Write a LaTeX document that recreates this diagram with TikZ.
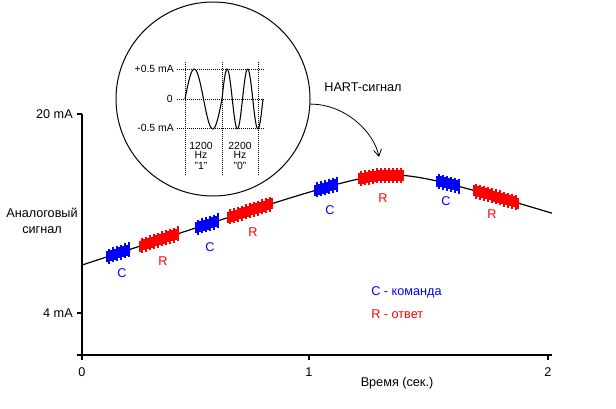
\documentclass[tikz,border=0pt]{standalone}
\usepackage{fontspec}
\setmainfont{Liberation Sans}
\usetikzlibrary{arrows.meta}
\begin{document}
\begin{tikzpicture}[x=0.75pt,y=-0.75pt,
  declare function={hy(\x)=175+sqrt(13.1^2+(((\x<392)?0.33:0.31)*(\x-392))^2)-13.1;},
  lbl/.style={font=\fontsize{9.5}{12}\selectfont,inner sep=0pt},
  sml/.style={font=\fontsize{7.8}{6.75}\selectfont,inner sep=0pt},
  grid/.style={dash pattern=on 0.75pt off 0.75pt,line width=0.6pt},
  axis/.style={line width=0.9pt}]
\useasboundingbox (0,0) rectangle (616,409);
% axes
\draw[axis] (82,114) -- (82,360);
\draw[axis] (77,355) -- (552,355);
\foreach \yy/\txt [count=\i] in {114/20 mA,313/4 mA} {
  \draw[axis] (77,\yy) -- (82,\yy);
  \node[lbl,anchor=east] (ytick\i) at (73,\yy) {\txt};
}
\foreach \xx/\txt [count=\i] in {82/0,309/1,548/2} {
  \draw[axis] (\xx,355) -- (\xx,360);
  \node[lbl] (xtick\i) at (\xx,372) {\txt};
}
\node[lbl,align=center] (ylab) at (42,221) {Аналоговый\\сигнал};
\node[lbl] (xlab) at (397,383) {Время (сек.)};
% analog signal
\draw[line width=0.9pt] plot[domain=82:552,samples=120] (\x,{hy(\x)});
% HART packets
\foreach \a/\b/\col in {107/130/blue,140/179/red,196/218/blue,228/272/red,
                        315/337/blue,359/403/red,437/459/blue,474/519/red} {
  \pgfmathsetmacro\aa{\a+2}
  \foreach \xt [count=\k] in {\a,\aa,...,\b} {
    \pgfmathsetmacro\h{mod(\k,2)==0?7.5:5.5}
    \draw[color=\col,line width=0.8pt] (\xt,{hy(\xt)-\h}) -- (\xt,{hy(\xt)+\h});
  }
  \draw[color=\col,line width=2.8pt] plot[domain=\a:\b,samples=12] (\x,{hy(\x)});
}
\foreach \xx/\yy/\txt/\col [count=\i] in {122/273/C/blue,163/261/R/red,210/247/C/blue,
    253/232/R/red,330/210/C/blue,383/198/R/red,446/201/C/blue,492/214/R/red}
  \node[lbl,text=\col] (pk\i) at (\xx,\yy) {\txt};
% legend
\node[lbl,anchor=west,text=blue] (legc) at (371,292) {C - команда};
\node[lbl,anchor=west,text=red] (legr) at (371,314) {R - ответ};
% inset
\node[circle,draw,line width=0.75pt,minimum size=145.5pt,inner sep=0pt] (inset) at (213,99) {};
\foreach \yy in {69,99,128} \draw[grid] (177,\yy) -- (265,\yy);
\foreach \xx in {185,222,258} \draw[grid] (\xx,62) -- (\xx,175);
\node[sml,anchor=east] (amax) at (174,69) {+0.5 mA};
\node[sml,anchor=east] (azero) at (173,99) {0};
\node[sml,anchor=east] (amin) at (174,128) {-0.5 mA};
\draw[line width=0.8pt] plot[domain=185:222,samples=40] (\x,{99-30*sin(360*(\x-185)/37)})
  -- plot[domain=222:263,samples=50] (\x,{99-30*sin(360*(\x-222)/20.5)});
\node[sml,align=center] (f1) at (201,150) {1200\\Hz};
\node[sml,align=center] (f2) at (240,150) {2200\\Hz};
\node[sml] (q1) at (201,166) {"1"};
\node[sml] (q2) at (240,166) {"0"};
\node[lbl] (hart) at (363,87) {HART-сигнал};
\coordinate (tip) at (379,157);
\draw[-{Straight Barb[length=5pt,width=6pt]},line width=0.6pt]
  (inset.-3) .. controls +(35,0) and +(-5,-25) .. (tip);
\end{tikzpicture}
\end{document}
